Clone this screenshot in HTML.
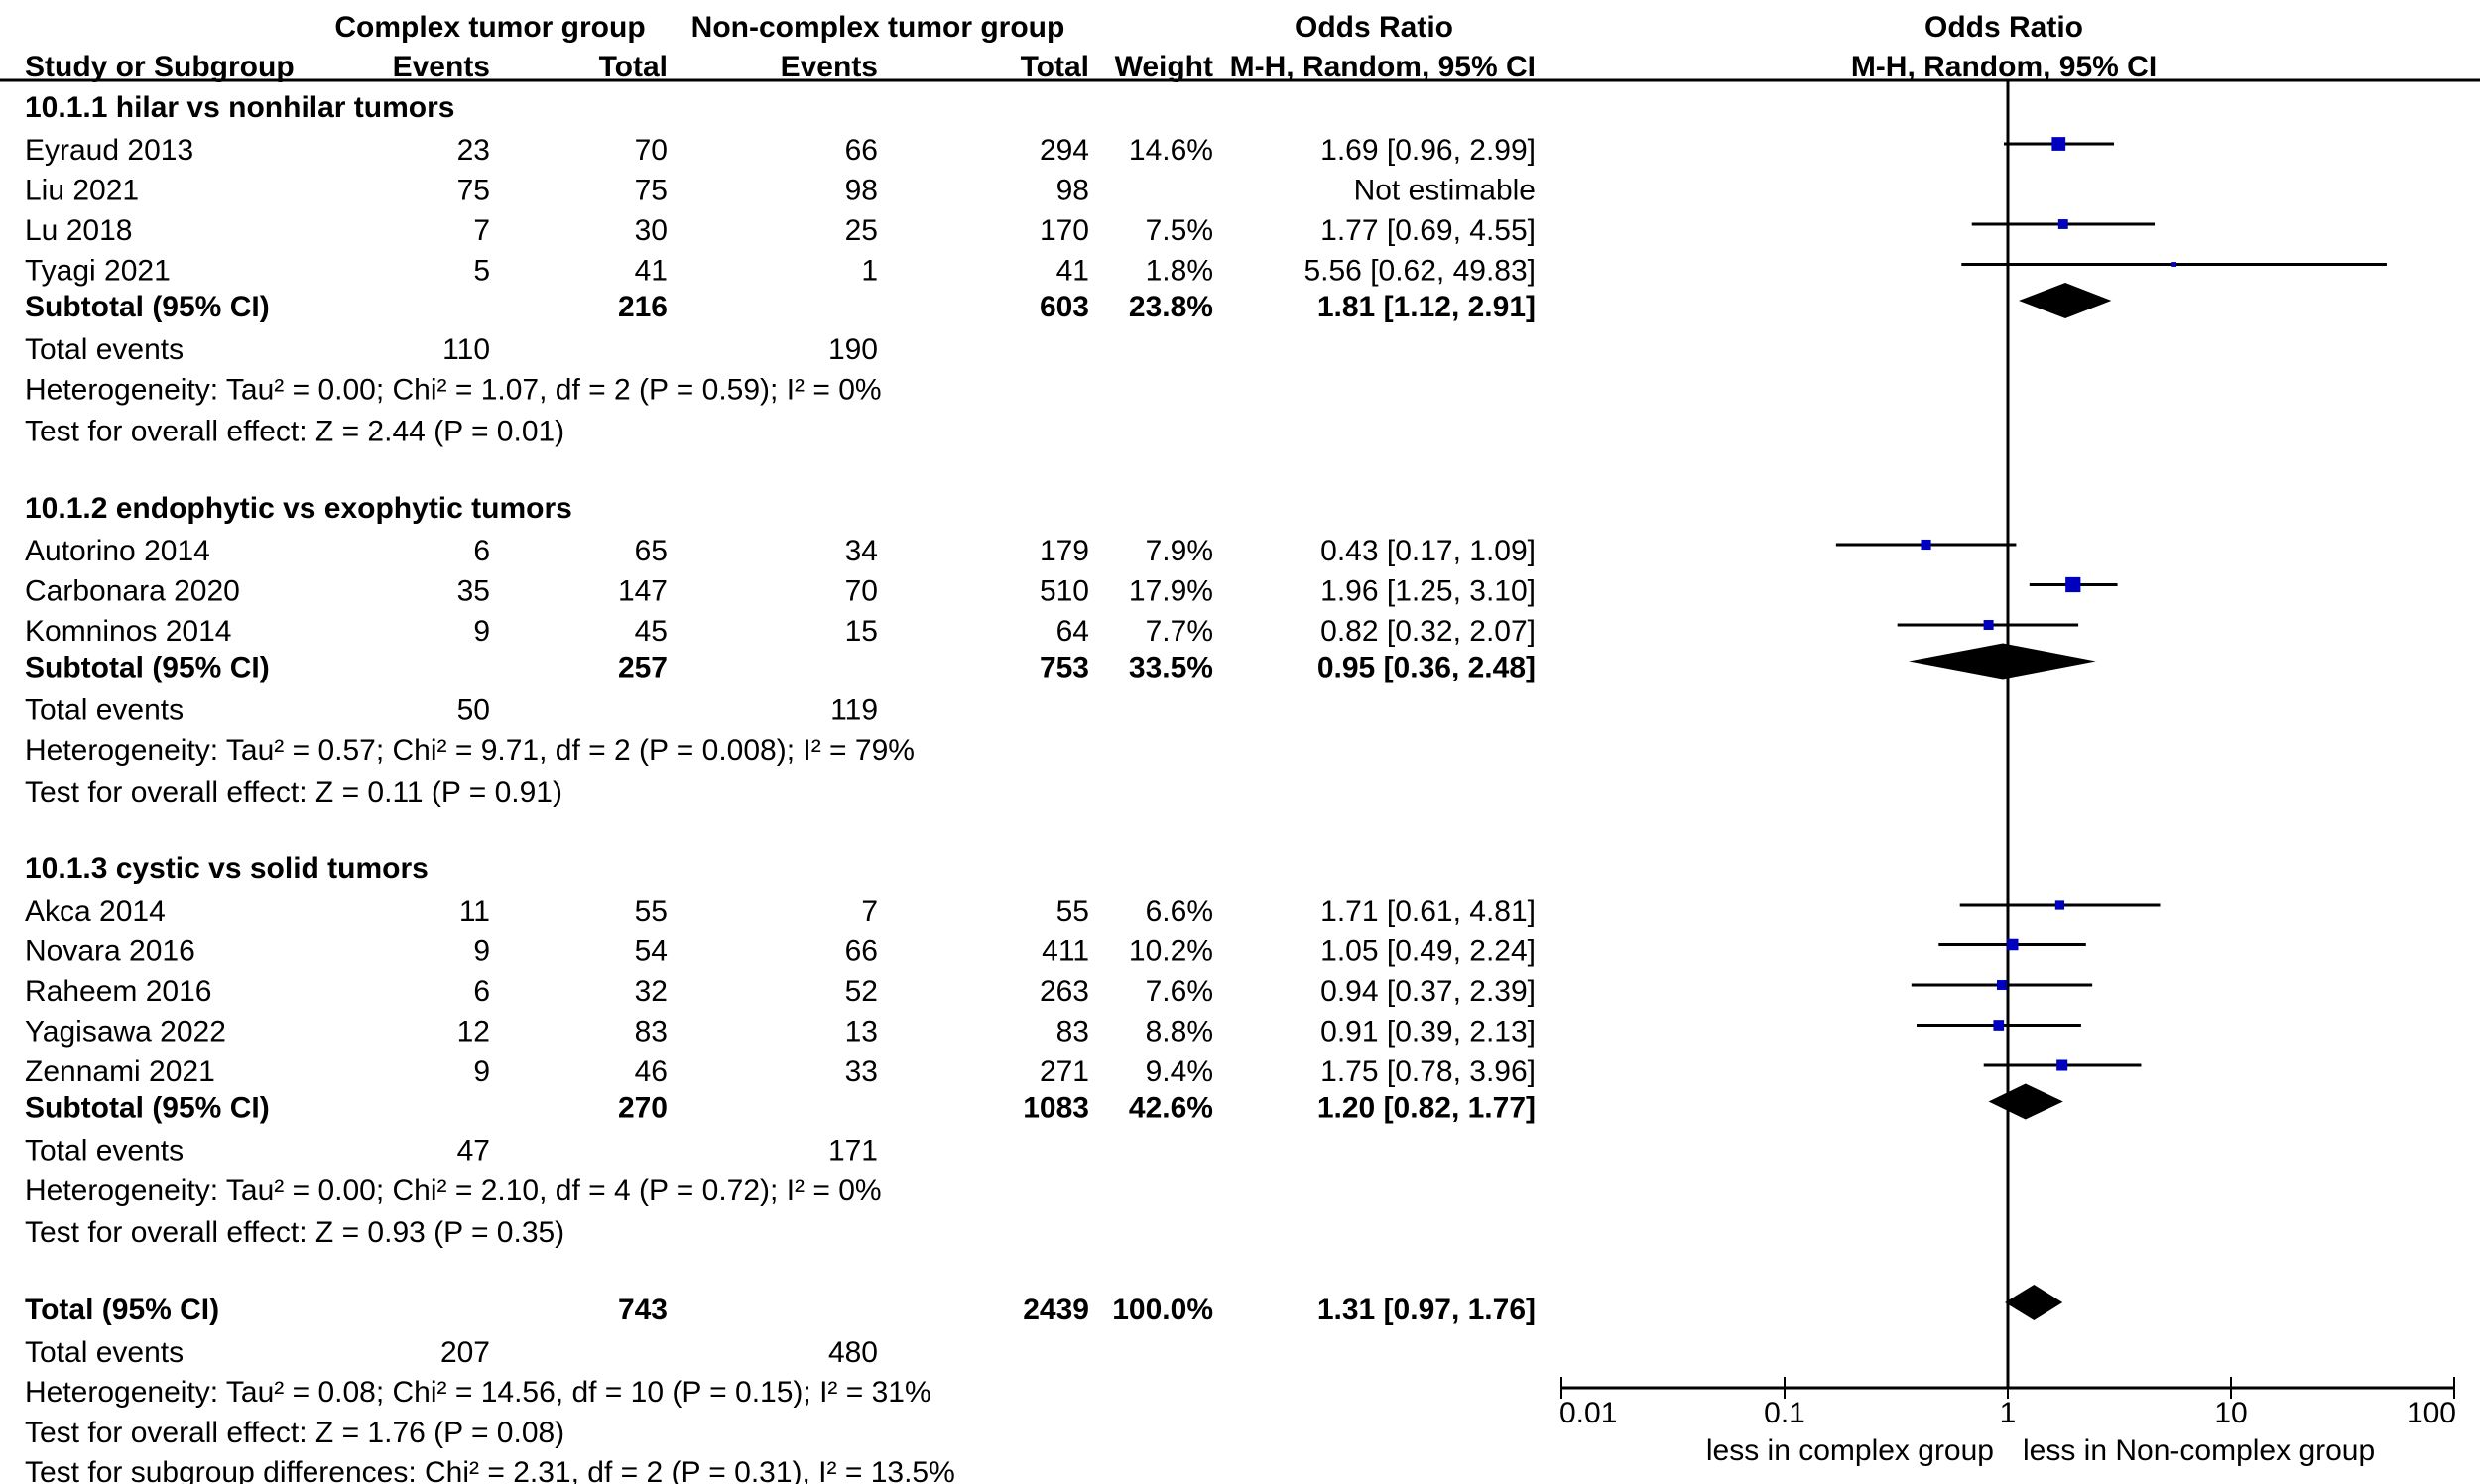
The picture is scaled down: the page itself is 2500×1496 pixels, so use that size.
<!DOCTYPE html>
<html><head><meta charset="utf-8"><style>
html,body{margin:0;padding:0;background:#fff;}
svg{display:block;}
text{font-family:"Liberation Sans",Arial,sans-serif;font-size:30px;fill:#000;}
.b{font-weight:bold;}
</style></head><body>
<svg id="chart" width="2500" height="1496" viewBox="0 0 2500 1496">
<g id="txt"></g>
<g id="plot"></g>
</svg>
<script>
// ---- data ----
const studyNames = ["Eyraud 2013","Liu 2021","Lu 2018","Tyagi 2021","Autorino 2014","Carbonara 2020","Komninos 2014","Akca 2014","Novara 2016","Raheem 2016","Yagisawa 2022","Zennami 2021"];
const studyGroup = [0,0,0,0,1,1,1,2,2,2,2,2];
const events1 = [23,75,7,5,6,35,9,11,9,6,12,9];
const totals1 = [70,75,30,41,65,147,45,55,54,32,83,46];
const events2 = [66,98,25,1,34,70,15,7,66,52,13,33];
const totals2 = [294,98,170,41,179,510,64,55,411,263,83,271];
const weights = [14.6,null,7.5,1.8,7.9,17.9,7.7,6.6,10.2,7.6,8.8,9.4];
const orValues = [1.69,null,1.77,5.56,0.43,1.96,0.82,1.71,1.05,0.94,0.91,1.75];
const ciLow = [0.96,null,0.69,0.62,0.17,1.25,0.32,0.61,0.49,0.37,0.39,0.78];
const ciHigh = [2.99,null,4.55,49.83,1.09,3.10,2.07,4.81,2.24,2.39,2.13,3.96];
const groupTitles = ["10.1.1 hilar vs nonhilar tumors","10.1.2 endophytic vs exophytic tumors","10.1.3 cystic vs solid tumors"];
const subTotal1 = [216,257,270];
const subTotal2 = [603,753,1083];
const subWeight = ["23.8%","33.5%","42.6%"];
const subOR = [1.81,0.95,1.20];
const subLow = [1.12,0.36,0.82];
const subHigh = [2.91,2.48,1.77];
const subEvents1 = [110,50,47];
const subEvents2 = [190,119,171];
const subHet = ["Heterogeneity: Tau² = 0.00; Chi² = 1.07, df = 2 (P = 0.59); I² = 0%","Heterogeneity: Tau² = 0.57; Chi² = 9.71, df = 2 (P = 0.008); I² = 79%","Heterogeneity: Tau² = 0.00; Chi² = 2.10, df = 4 (P = 0.72); I² = 0%"];
const subTest = ["Test for overall effect: Z = 2.44 (P = 0.01)","Test for overall effect: Z = 0.11 (P = 0.91)","Test for overall effect: Z = 0.93 (P = 0.35)"];
const totalOR = [1.31,0.97,1.76];
const axisTicks = [0.01,0.1,1,10,100];
const axisTickLabels = ["0.01","0.1","1","10","100"];

// ---- layout ----
const NS="http://www.w3.org/2000/svg";
const T=document.getElementById('txt'), P=document.getElementById('plot');
const X0=2024, DEC=225;
function xs(v){return X0+Math.log10(v)*DEC;}
const colEv1=494,colT1=673,colEv2=885,colT2=1098,colW=1223,colCI=1548,colL=25;
function el(tag,attrs,parent){const e=document.createElementNS(NS,tag);for(const k in attrs)e.setAttribute(k,attrs[k]);parent.appendChild(e);return e;}
function tx(s,x,y,anchor,bold,name){const e=el('text',{x:x,y:y+10,'text-anchor':anchor||'start'},T);if(bold)e.setAttribute('class','b');e.textContent=s;


return e;}
function f2(v){return v.toFixed(2);}
function ci(o,l,h){return f2(o)+" ["+f2(l)+", "+f2(h)+"]";}

// headers
tx("Complex tumor group",494,27,'middle',true,'header-complex-group');
tx("Non-complex tumor group",885,27,'middle',true,'header-noncomplex-group');
tx("Odds Ratio",1385,27,'middle',true,'header-odds-ratio');
tx("Odds Ratio",2020,27,'middle',true,'header-odds-ratio-plot');
tx("Study or Subgroup",colL,67,'start',true,'header-study');
tx("Events",colEv1,67,'end',true,'header-events-1');
tx("Total",colT1,67,'end',true,'header-total-1');
tx("Events",colEv2,67,'end',true,'header-events-2');
tx("Total",colT2,67,'end',true,'header-total-2');
tx("Weight",colW,67,'end',true,'header-weight');
tx("M-H, Random, 95% CI",colCI,67,'end',true,'header-method');
tx("M-H, Random, 95% CI",2020,67,'middle',true,'header-method-plot');
const hl=el('line',{x1:0,y1:81,x2:2500,y2:81,stroke:'#000','stroke-width':3},P);



// reference line
const rl=el('line',{x1:xs(1),y1:81,x2:xs(1),y2:1400,stroke:'#000','stroke-width':3},P);



function diamond(o,l,h,y,name){const d=el('polygon',{points:`${xs(l)},${y} ${xs(o)},${y-18} ${xs(h)},${y} ${xs(o)},${y+18}`,fill:'#000'},P);

}

const groupStart=[108,512,875];
const PITCH=40.5;
for(let g=0;g<3;g++){
  let y=groupStart[g];
  tx(groupTitles[g],colL,y,'start',true,'subgroup-title');
  y+=43;
  for(let i=0;i<studyNames.length;i++){ if(studyGroup[i]!==g)continue;
    tx(studyNames[i],colL,y,'start',false,'study-name');
    tx(String(events1[i]),colEv1,y,'end',false,'events-complex');
    tx(String(totals1[i]),colT1,y,'end',false,'total-complex');
    tx(String(events2[i]),colEv2,y,'end',false,'events-noncomplex');
    tx(String(totals2[i]),colT2,y,'end',false,'total-noncomplex');
    if(orValues[i]===null){ tx("Not estimable",colCI,y,'end',false,'not-estimable'); }
    else{
      tx(weights[i].toFixed(1)+"%",colW,y,'end',false,'weight');
      tx(ci(orValues[i],ciLow[i],ciHigh[i]),colCI,y,'end',false,'odds-ratio-ci');
      const my=y-6;
      const ln=el('line',{x1:xs(ciLow[i]),y1:my,x2:xs(ciHigh[i]),y2:my,stroke:'#000','stroke-width':3},P);
      
      
      const s=3.6*Math.sqrt(weights[i]);
      const sq=el('rect',{x:xs(orValues[i])-s/2,y:my-s/2,width:s,height:s,fill:'#0000c0'},P);
      
      
    }
    y+=PITCH;
  }
  y-=4;
  tx("Subtotal (95% CI)",colL,y,'start',true,'subtotal-label');
  tx(String(subTotal1[g]),colT1,y,'end',true,'subtotal-complex');
  tx(String(subTotal2[g]),colT2,y,'end',true,'subtotal-noncomplex');
  tx(subWeight[g],colW,y,'end',true,'subtotal-weight');
  tx(ci(subOR[g],subLow[g],subHigh[g]),colCI,y,'end',true,'subtotal-ci');
  diamond(subOR[g],subLow[g],subHigh[g],y-6,'subtotal-diamond');
  y+=43;
  tx("Total events",colL,y,'start',false,'total-events-label');
  tx(String(subEvents1[g]),colEv1,y,'end',false,'total-events-complex');
  tx(String(subEvents2[g]),colEv2,y,'end',false,'total-events-noncomplex');
  y+=PITCH; tx(subHet[g],colL,y,'start',false,'heterogeneity');
  y+=42; tx(subTest[g],colL,y,'start',false,'overall-effect');
}
// overall
tx("Total (95% CI)",colL,1320,'start',true,'total-label');
tx("743",colT1,1320,'end',true,'total-complex');
tx("2439",colT2,1320,'end',true,'total-noncomplex');
tx("100.0%",colW,1320,'end',true,'total-weight');
tx(ci(totalOR[0],totalOR[1],totalOR[2]),colCI,1320,'end',true,'total-ci');
diamond(totalOR[0],totalOR[1],totalOR[2],1313,'total-diamond');
tx("Total events",colL,1363,'start',false,'total-events-label');
tx("207",colEv1,1363,'end',false,'total-events-complex');
tx("480",colEv2,1363,'end',false,'total-events-noncomplex');
tx("Heterogeneity: Tau² = 0.08; Chi² = 14.56, df = 10 (P = 0.15); I² = 31%",colL,1403,'start',false,'heterogeneity-total');
tx("Test for overall effect: Z = 1.76 (P = 0.08)",colL,1444,'start',false,'overall-effect-total');
tx("Test for subgroup differences: Chi² = 2.31, df = 2 (P = 0.31), I² = 13.5%",colL,1484,'start',false,'subgroup-differences');

// axis
const ax=el('line',{x1:xs(axisTicks[0]),y1:1399,x2:xs(axisTicks[axisTicks.length-1]),y2:1399,stroke:'#000','stroke-width':3},P);


axisTicks.forEach((t,i)=>{
  const tk=el('line',{x1:xs(t),y1:1388,x2:xs(t),y2:1410,stroke:'#000','stroke-width':2},P);
  
  
  const a=i===0?'start':(i===axisTicks.length-1?'end':'middle');
  const xx=i===0?xs(t)-2:(i===axisTicks.length-1?xs(t)+2:xs(t));
  tx(axisTickLabels[i],xx,1424,a,false,'x-tick-label');
});
tx("less in complex group",2010,1462,'end',false,'favours-left-label');
tx("less in Non-complex group",2039,1462,'start',false,'favours-right-label');
</script>
</body></html>
